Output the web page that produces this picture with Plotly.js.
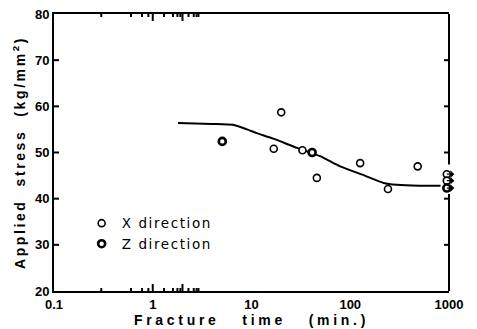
<!DOCTYPE html>
<html>
<head>
<meta charset="utf-8">
<script src="https://cdn.plot.ly/plotly-3.0.1.min.js"></script>
<style>
html,body{margin:0;padding:0;background:#fff;}
#chart{width:477px;height:329px;}
.g-xtitle text{letter-spacing:3.7px;}
.g-ytitle text{letter-spacing:2.6px;}
.legendtext{letter-spacing:1.6px;}
</style>
</head>
<body>
<div id="chart"></div>
<script>
// Data
const xDirTime   = [16.8, 20, 32.8, 45.9, 126, 241, 482];
const xDirStress = [50.8, 58.7, 50.5, 44.5, 47.7, 42.1, 47.0];
const zDirTime   = [5.06, 41.1];
const zDirStress = [52.4, 50.0];
// run-outs (not fractured) at the end of the test
const xRunTime   = [950, 950];
const xRunStress = [45.3, 43.9];
const zRunTime   = [950];
const zRunStress = [42.3];
// fitted curve
const curveTime   = [1.8, 4, 6.5, 9, 11.3, 16.6, 28.9, 49.5, 79, 140, 218, 298, 500, 820];
const curveStress = [56.4, 56.2, 56.0, 55.0, 54.2, 53.0, 51.0, 49.2, 47.0, 45.0, 43.4, 43.0, 42.8, 42.8];
const xTickVals = [0.1, 1, 10, 100, 1000];
const xTickText = ['0.1', '1', '10', '100', '1000'];
const xMinorVals = [0.2, 0.4, 0.6, 0.8, 2, 4, 6, 8, 20, 40, 60, 80, 200, 400, 600, 800];
const yTickVals = [20, 30, 40, 50, 60, 70, 80];

const fontFam = '"Liberation Sans", Arial, sans-serif';
const legFam = '"DejaVu Sans", sans-serif';
const hollow = {symbol: 'circle', size: 7, color: '#fff', line: {color: '#000', width: 1.6}};
const filled = {symbol: 'circle', size: 7, color: '#fff', line: {color: '#000', width: 2.6}};

const traces = [
  {x: curveTime, y: curveStress, mode: 'lines', line: {color: '#000', width: 2, shape: 'spline', smoothing: 0.5}, showlegend: false, hoverinfo: 'skip'},
  {x: xDirTime, y: xDirStress, mode: 'markers', marker: hollow, name: 'X direction'},
  {x: zDirTime, y: zDirStress, mode: 'markers', marker: filled, name: 'Z direction'},
  {x: xRunTime, y: xRunStress, mode: 'markers', marker: hollow, showlegend: false, cliponaxis: false},
  {x: zRunTime, y: zRunStress, mode: 'markers', marker: filled, showlegend: false, cliponaxis: false}
];

// run-out arrows
const arrows = [];
xRunTime.forEach((t, i) => arrows.push({x: Math.log10(t), y: xRunStress[i]}));
zRunTime.forEach((t, i) => arrows.push({x: Math.log10(t), y: zRunStress[i]}));
const annotations = arrows.map(p => ({
  x: p.x, y: p.y, xref: 'x', yref: 'y', text: '', showarrow: true,
  ax: 12, ay: 0, arrowside: 'start', arrowhead: 2, arrowsize: 0.7, arrowwidth: 1.3,
  arrowcolor: '#000', standoff: 0, startstandoff: 3
}));

// inward tick marks on all four sides (shapes on the axis scales; log axis takes log10 positions)
const plotW = 477 - 54 - 28, plotH = 329 - 14 - 38;
const tickLine = {color: '#000', width: 2};
const shapes = [];
const xTick = (v, len) => {
  const f = len / plotH, p = Math.log10(v);
  shapes.push({type: 'line', xref: 'x', yref: 'paper', x0: p, x1: p, y0: 0, y1: f, line: tickLine});
  shapes.push({type: 'line', xref: 'x', yref: 'paper', x0: p, x1: p, y0: 1, y1: 1 - f, line: tickLine});
};
xTickVals.slice(1, -1).forEach(v => xTick(v, 7));
xMinorVals.forEach(v => xTick(v, 3));
yTickVals.slice(1, -1).forEach(v => {
  const f = 5 / plotW;
  shapes.push({type: 'line', xref: 'paper', yref: 'y', x0: 0, x1: f, y0: v, y1: v, line: tickLine});
  shapes.push({type: 'line', xref: 'paper', yref: 'y', x0: 1, x1: 1 - f, y0: v, y1: v, line: tickLine});
});
// right frame line, interrupted where the run-out symbols sit
const runAll = xRunStress.concat(zRunStress);
const gapLo = Math.min(...runAll) - 1.3, gapHi = Math.max(...runAll) + 2.1;
const yMin = yTickVals[0], yMax = yTickVals[yTickVals.length - 1];
shapes.push({type: 'line', xref: 'paper', yref: 'y', x0: 1, x1: 1, y0: yMin, y1: gapLo, line: tickLine});
shapes.push({type: 'line', xref: 'paper', yref: 'y', x0: 1, x1: 1, y0: gapHi, y1: yMax, line: tickLine});

const tickFont = {size: 13, family: fontFam, weight: 'bold', color: '#000'};
const sp = '\u00a0\u00a0 ';
const layout = {
  width: 477, height: 329,
  margin: {l: 54, r: 28, t: 14, b: 38},
  paper_bgcolor: '#fff', plot_bgcolor: '#fff',
  font: {family: fontFam, color: '#000'},
  showlegend: true,
  legend: {x: 0.07, y: 0.3, xanchor: 'left', yanchor: 'top', bgcolor: 'rgba(0,0,0,0)',
           font: {size: 13.5, family: legFam, color: '#000'}, itemwidth: 30, tracegroupgap: 0},
  xaxis: {
    type: 'log', range: [-1, 3], tickmode: 'array', tickvals: xTickVals, ticktext: xTickText,
    ticks: '', showline: true, linecolor: '#000', linewidth: 2, mirror: true,
    showgrid: false, zeroline: false, tickfont: tickFont,
    title: {text: 'Fracture' + sp + 'time' + sp + '(min.)', standoff: 4,
            font: {size: 14, family: fontFam, weight: 'bold', color: '#000'}}
  },
  yaxis: {
    range: [20, 80], tickmode: 'array', tickvals: yTickVals,
    ticks: '', showline: true, linecolor: '#000', linewidth: 2, mirror: false,
    showgrid: false, zeroline: false, tickfont: tickFont,
    title: {text: 'Applied\u00a0 stress\u00a0 (kg/mm<sup>2</sup>)', standoff: 6,
            font: {size: 14, family: fontFam, weight: 'bold', color: '#000'}}
  },
  shapes: shapes,
  annotations: annotations
};

Plotly.newPlot('chart', traces, layout, {displayModeBar: false, staticPlot: true});
</script>
</body>
</html>
